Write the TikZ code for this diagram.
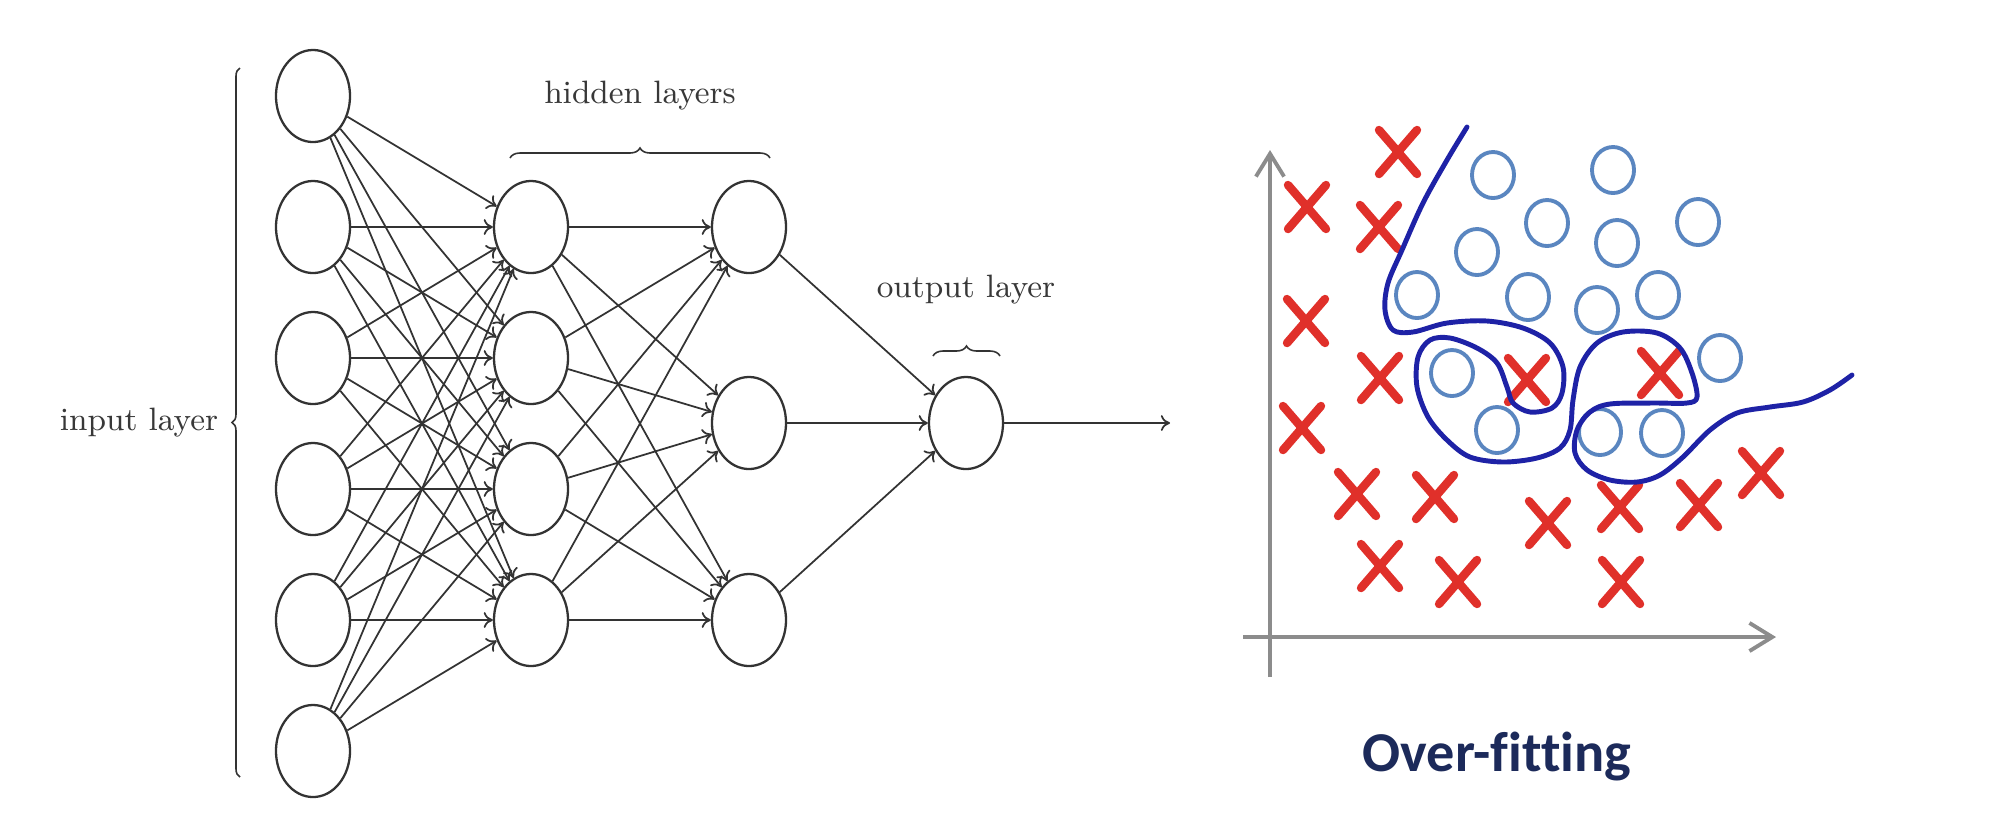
\documentclass[tikz,border=0pt]{standalone}
\usepackage{fontspec}
\newfontfamily\carlito[Ligatures=CommonOff]{Carlito}
\usetikzlibrary{shapes.geometric,arrows.meta,decorations.pathreplacing}
\definecolor{netgray}{HTML}{333333}
\definecolor{txtgray}{HTML}{383838}
\definecolor{xred}{HTML}{E0302A}
\definecolor{cblue}{HTML}{5A86C0}
\definecolor{fitblue}{HTML}{1E22A6}
\definecolor{axgray}{HTML}{8C8C8C}
\definecolor{navy}{HTML}{1C2A5A}
\begin{document}
\begin{tikzpicture}[x=0.01cm,y=-0.01cm,
  neuron/.style={draw=netgray,line width=0.65pt,ellipse,minimum width=0.74cm,minimum height=0.92cm,inner sep=0pt},
  edge/.style={draw=netgray,line width=0.5pt,-{To[length=2.6pt,width=4.5pt]}},
  lbl/.style={text=txtgray,font=\fontsize{9.2}{11}\selectfont,inner sep=0pt},
  brc/.style={draw=netgray,line width=0.45pt,decorate},
  xm/.style={draw=xred,line width=2.4pt,line cap=round},
  bc/.style={draw=cblue,line width=1.1pt},
  fit/.style={draw=fitblue,line width=1.4pt,line cap=round,line join=round},
  axis/.style={draw=axgray,line width=1.1pt,-{Straight Barb[length=6.5pt,width=8pt]}}]
\useasboundingbox (0,0) rectangle (2000,835);
% network nodes
\foreach \i/\y in {1/96,2/227,3/358,4/489,5/620,6/751}
  \node[neuron] (i\i) at (313,\y) {};
\foreach \i/\y in {1/227,2/358,3/489,4/620}
  \node[neuron] (a\i) at (531,\y) {};
\foreach \i/\y in {1/227,2/423,3/620}
  \node[neuron] (b\i) at (749,\y) {};
\node[neuron] (o) at (966,423) {};
\coordinate (out) at (1170,423);
% connectors
\foreach \i in {1,...,6}
  \foreach \j in {1,...,4}
    \draw[edge] (i\i) -- (a\j);
\foreach \i in {1,...,4}
  \foreach \j in {1,...,3}
    \draw[edge] (a\i) -- (b\j);
\foreach \i in {1,...,3}
  \draw[edge] (b\i) -- (o);
\draw[edge] (o) -- (out);
% labels and braces
\node[lbl] (tin) at (139,423) {input layer};
\node[lbl] (thid) at (640,96) {hidden layers};
\node[lbl] (tout) at (966,290) {output layer};
\draw[brc,decoration={brace,amplitude=0.08cm}] (240,777) -- (240,68);
\draw[brc,decoration={brace,amplitude=0.1cm}] (510,158) -- (770,158);
\draw[brc,decoration={brace,amplitude=0.1cm}] (933,356) -- (1000,356);
% plot axes
\draw[axis] (1270,677) -- (1270,150);
\draw[axis] (1243,637) -- (1776,637);
% circles
\foreach \x/\y in {1493/175,1613/170,1547/223,1698/222,1477/252,1617/243,1417/295,1528/297,1597/310,1658/295,1720/358,1452/373,1497/430,1600/432,1662/433}
  \draw[bc] (\x,\y) ellipse[x radius=0.21cm,y radius=0.23cm];
% crosses
\foreach \x/\y in {1398/152,1307/207,1379/227,1306/321,1380/378,1302/428,1527/380,1660/373,1357/494,1435/497,1548/523,1620/507,1699/505,1761/473,1380/566,1458/582,1621/582}
  \draw[xm] ({\x-19},{\y-22}) -- ({\x+19},{\y+22}) ({\x-19},{\y+22}) -- ({\x+19},{\y-22});
% fitted boundary
\draw[fit] plot[smooth,tension=0.55] coordinates {
 (1467,127) (1447,160) (1423,203) (1402,250) (1388,283) (1385,310) (1393,330)
 (1413,332) (1447,323) (1487,321) (1523,328) (1550,343) (1563,367) (1562,393)
 (1552,408) (1530,412) (1513,403) (1507,387) (1497,363) (1477,348) (1450,338)
 (1430,340) (1418,357) (1417,387) (1428,417) (1447,440) (1470,457) (1503,462)
 (1537,458) (1560,448) (1570,430) (1573,400) (1580,367) (1597,343) (1623,332)
 (1657,333) (1680,348) (1692,373) (1697,397) (1687,403) (1653,403) (1610,404)
 (1590,412) (1577,430) (1575,453) (1587,470) (1610,480) (1637,482) (1660,475)
 (1683,457) (1710,430) (1737,413) (1770,407) (1803,402) (1830,390) (1852,375)};
\node[text=navy,font=\carlito\bfseries\fontsize{16}{19}\selectfont,inner sep=0pt] (title) at (1497,757) {Over-fitting};
\end{tikzpicture}
\end{document}
